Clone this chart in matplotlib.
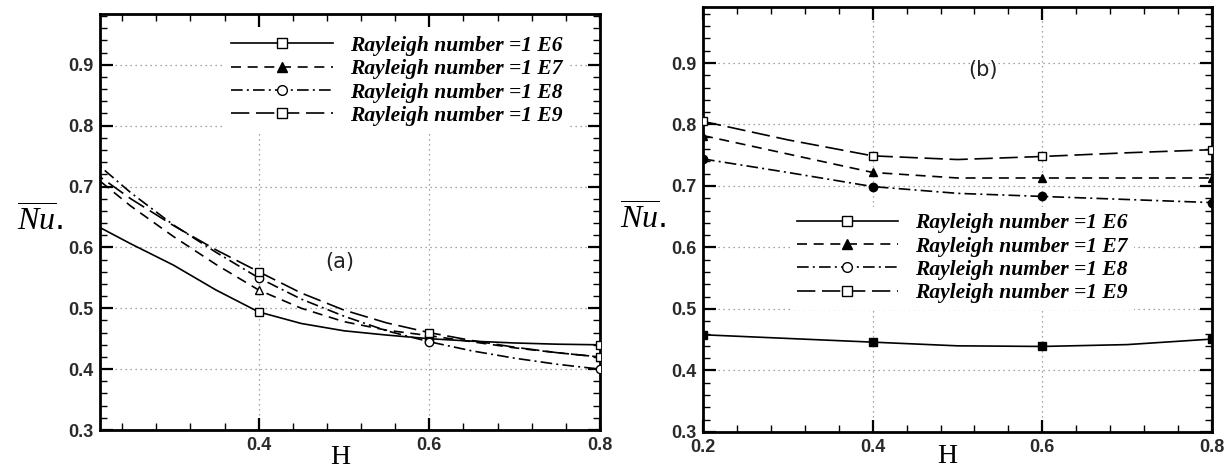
import matplotlib.pyplot as plt
from matplotlib.ticker import MultipleLocator
from matplotlib.lines import Line2D

# ------------------------------------------------------
# Average Nusselt number vs H for four Rayleigh numbers
# (a) and (b) panels
# ------------------------------------------------------

plt.rcParams['mathtext.fontset'] = 'custom'
plt.rcParams['mathtext.rm'] = 'Liberation Serif'
plt.rcParams['mathtext.it'] = 'Liberation Serif:italic'

LABELS = ["Rayleigh number =1 E6", "Rayleigh number =1 E7",
          "Rayleigh number =1 E8", "Rayleigh number =1 E9"]

# panel (a)
h_a = [0.2, 0.25, 0.3, 0.35, 0.4, 0.45, 0.5, 0.55, 0.6, 0.65, 0.7, 0.75, 0.8]
nu_a_e6 = [0.643, 0.606, 0.571, 0.530, 0.494, 0.475, 0.463, 0.456, 0.450,
           0.446, 0.443, 0.441, 0.440]
nu_a_e7 = [0.725, 0.668, 0.618, 0.572, 0.530, 0.500, 0.478, 0.464, 0.455,
           0.445, 0.435, 0.427, 0.420]
nu_a_e8 = [0.750, 0.690, 0.637, 0.592, 0.550, 0.515, 0.487, 0.463, 0.445,
           0.430, 0.418, 0.408, 0.400]
nu_a_e9 = [0.730, 0.680, 0.636, 0.596, 0.560, 0.525, 0.497, 0.476, 0.460,
           0.447, 0.436, 0.427, 0.420]

# panel (b)
h_b = [0.2, 0.3, 0.4, 0.5, 0.6, 0.7, 0.8]
nu_b_e6 = [0.458, 0.452, 0.446, 0.440, 0.439, 0.442, 0.451]
nu_b_e7 = [0.782, 0.752, 0.722, 0.713, 0.713, 0.713, 0.713]
nu_b_e8 = [0.744, 0.722, 0.699, 0.688, 0.683, 0.678, 0.673]
nu_b_e9 = [0.805, 0.775, 0.749, 0.743, 0.748, 0.754, 0.759]

MARK_H = [0.2, 0.4, 0.6, 0.8]

STYLES = [
    {"ls": "-", "dashes": None},
    {"ls": "--", "dashes": (6, 4)},
    {"ls": "-.", "dashes": (7, 2.5, 1.2, 2.5)},
    {"ls": "--", "dashes": (11, 4)},
]
MARKERS = ["s", "^", "o", "s"]


def style_axes(ax, xmin, ymax, label_y):
    ax.set_xlim(xmin, 0.8)
    ax.set_ylim(0.3, ymax)
    ax.xaxis.set_major_locator(MultipleLocator(0.2))
    ax.xaxis.set_minor_locator(MultipleLocator(0.04))
    ax.yaxis.set_major_locator(MultipleLocator(0.1))
    ax.yaxis.set_minor_locator(MultipleLocator(0.02))
    ax.tick_params(which='both', direction='in', top=True, right=True,
                   colors='black', labelcolor='#2a2a2a')
    ax.tick_params(which='major', length=9, width=1.6, labelsize=13, pad=5)
    ax.tick_params(which='minor', length=5, width=1.0)
    for lab in ax.get_xticklabels() + ax.get_yticklabels():
        lab.set_fontweight('bold')
        lab.set_family('Liberation Sans')
    for sp in ax.spines.values():
        sp.set_linewidth(2)
    ax.grid(True, which='major', linestyle=(0, (1, 3)), color='#888888',
            linewidth=0.9)
    ax.set_xlabel("H", family='Liberation Serif', fontsize=20, va='center')
    ax.xaxis.set_label_coords(0.48, label_y)
    ax.set_ylabel(r"$\overline{Nu}$.", fontsize=23, rotation=0,
                  labelpad=20, va='center')


def draw_series(ax, x, y, i, filled):
    st = STYLES[i]
    marks = [k for k, v in enumerate(x) if round(v, 3) in MARK_H]
    line, = ax.plot(x, y, color='black', linewidth=1.2, linestyle=st["ls"],
                    marker=MARKERS[i], markevery=marks, markersize=6,
                    markerfacecolor='black' if filled else 'white',
                    markeredgecolor='black', markeredgewidth=1.0,
                    clip_on=True, zorder=3)
    if st["dashes"]:
        line.set_dashes(st["dashes"])
    return line


def legend_handles():
    hs = []
    for i in range(4):
        h = Line2D([], [], color='black', linewidth=1.2, linestyle=STYLES[i]["ls"],
                   marker=MARKERS[i], markersize=7,
                   markerfacecolor='black' if i == 1 else 'white',
                   markeredgecolor='black')
        if STYLES[i]["dashes"]:
            h.set_dashes(STYLES[i]["dashes"])
        hs.append(h)
    return hs


fig = plt.figure(figsize=(12.28, 4.71), dpi=100)
ax_a = fig.add_axes([0.0814, 0.087, 0.4072, 0.884])
ax_b = fig.add_axes([0.5725, 0.083, 0.4145, 0.902])

for i, y in enumerate([nu_a_e6, nu_a_e7, nu_a_e8, nu_a_e9]):
    draw_series(ax_a, h_a, y, i, filled=False)
for i, y in enumerate([nu_b_e6, nu_b_e7, nu_b_e8, nu_b_e9]):
    draw_series(ax_b, h_b, y, i, filled=(i != 3))

style_axes(ax_a, 0.214, 0.984, -0.066)
style_axes(ax_b, 0.2, 0.991, -0.058)

leg_font = {'family': 'Liberation Serif', 'style': 'italic',
            'weight': 'bold', 'size': 15.5}
for ax, anchor in [(ax_a, (0.25, 0.962)), (ax_b, (0.171, 0.53))]:
    leg = ax.legend(legend_handles(), LABELS, loc='upper left',
                    bbox_to_anchor=anchor, prop=leg_font, numpoints=1,
                    handlelength=4.7, handletextpad=0.8, labelspacing=0.15,
                    frameon=True, fancybox=False, borderpad=0.3,
                    borderaxespad=0)
    leg.get_frame().set_edgecolor('none')
    leg.get_frame().set_facecolor('white')
    leg.get_frame().set_alpha(1)
    leg.set_zorder(5)

ax_a.text(0.48, 0.403, "(a)", transform=ax_a.transAxes, fontsize=15,
          family='DejaVu Sans', color='#222222', ha='center', va='center')
ax_b.text(0.55, 0.852, "(b)", transform=ax_b.transAxes, fontsize=15,
          family='DejaVu Sans', color='#222222', ha='center', va='center')

fig.savefig("out.png", dpi=100)
